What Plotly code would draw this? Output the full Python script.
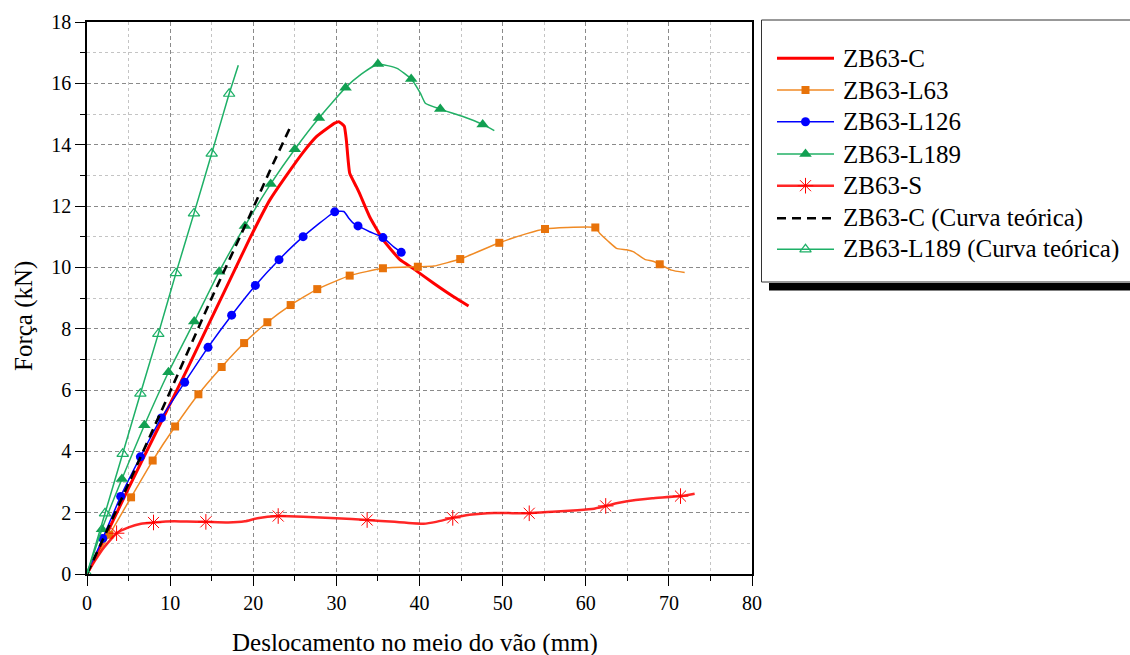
import plotly.graph_objects as go

# ---------------- data ----------------
# ZB63-C (experimental, no markers)
c_x = [0, 2, 5, 8, 10, 12, 15, 18, 19.6, 22, 24, 26, 27.6, 29, 29.8, 30.3, 30.95, 31.2, 31.6, 32.4,
       32.8, 34, 35.6, 37.65, 39.3, 41.7, 44.1, 45.9]
c_y = [0, 1.1, 2.8, 4.45, 5.55, 6.65, 8.35, 10.05, 10.95, 12.2, 13.0, 13.75, 14.26, 14.55, 14.7, 14.75,
       14.6, 14.15, 13.07, 12.63, 12.4, 11.65, 10.9, 10.25, 9.95, 9.48, 9.04, 8.74]

# ZB63-L63 (orange squares)
l63_mx = [2.69, 5.3, 7.9, 10.6, 13.4, 16.2, 18.9, 21.7, 24.5, 27.7, 31.6, 35.6, 39.8, 44.9, 49.6,
          55.1, 61.15, 68.9]
l63_my = [1.28, 2.5, 3.7, 4.81, 5.86, 6.75, 7.53, 8.21, 8.77, 9.29, 9.73, 9.97, 10.02, 10.27, 10.8,
          11.25, 11.3, 10.1]
l63_lx = [0, 41.7, 52.9, 57.7, 61.7, 62.7, 63.7, 64.9, 65.7, 67.1, 68.1, 70.3, 71.9]
l63_ly = [0, 10.04, 11.1, 11.3, 11.1, 10.85, 10.62, 10.57, 10.51, 10.26, 10.2, 9.91, 9.83]

# ZB63-L126 (blue circles)
l126_mx = [1.89, 4.05, 6.42, 8.95, 11.75, 14.56, 17.4, 20.25, 23.1, 26.0, 29.8, 32.6, 35.6, 37.8]
l126_my = [1.16, 2.53, 3.82, 5.09, 6.25, 7.39, 8.44, 9.41, 10.25, 11.0, 11.81, 11.35, 10.97, 10.49]
l126_lx = [0, 30.9, 31.5, 32.0, 34.0, 36.9]
l126_ly = [0, 11.82, 11.6, 11.45, 11.16, 10.67]

# ZB63-L189 (green filled triangles)
l189_mx = [1.8, 4.2, 6.9, 9.8, 12.9, 15.9, 19.0, 22.1, 25.0, 27.9, 31.1, 35.0, 39.0, 42.5, 47.6]
l189_my = [1.46, 3.1, 4.85, 6.58, 8.23, 9.86, 11.35, 12.72, 13.85, 14.87, 15.86, 16.63, 16.14,
           15.16, 14.66]
l189_lx = [0, 33.0, 37.3, 40.1, 40.7, 45.3, 49.0]
l189_ly = [0, 16.3, 16.49, 15.68, 15.35, 14.91, 14.46]

# ZB63-S (red asterisks)
s_mx = [3.56, 8.0, 14.3, 23.0, 33.7, 44.0, 53.2, 62.4, 71.4]
s_my = [1.33, 1.68, 1.70, 1.89, 1.76, 1.83, 1.98, 2.22, 2.54]
s_lx = [0, 1, 2, 5, 6.5, 10.5, 12, 17, 19, 20.5, 26, 30, 37, 40.5, 42, 46, 49, 56, 59, 61, 64, 66,
        68, 73.1]
s_ly = [0, 0.45, 0.85, 1.52, 1.64, 1.72, 1.71, 1.68, 1.72, 1.82, 1.87, 1.82, 1.70, 1.64, 1.70, 1.93,
        1.99, 2.03, 2.08, 2.13, 2.32, 2.41, 2.47, 2.62]

# ZB63-C theoretical curve (black dashed)
ct_x = [0, 5, 10, 15, 19.6, 22, 24.5]
ct_y = [0, 2.95, 5.95, 9.0, 11.7, 13.15, 14.6]

# ZB63-L189 theoretical curve (green open triangles)
l189t_mx = [0, 2.17, 4.29, 6.42, 8.58, 10.7, 12.87, 15.0, 17.1]
l189t_my = [0, 1.98, 3.92, 5.88, 7.83, 9.81, 11.76, 13.71, 15.66]
l189t_lx = [18.2]
l189t_ly = [16.59]

series_names = ["ZB63-C", "ZB63-L63", "ZB63-L126", "ZB63-L189", "ZB63-S",
                "ZB63-C (Curva teórica)", "ZB63-L189 (Curva teórica)"]

x_title = "Deslocamento no meio do vão (mm)"
y_title = "Força (kN)"

# ---------------- styling ----------------
FONT = "Liberation Serif, Times New Roman, Times, DejaVu Serif, serif"
RED = "#FF0000"
ORANGE_L = "#F08A24"
ORANGE_M = "#E8730A"
BLUE = "#0000FF"
GREEN_L = "#22B066"
GREEN_M = "#12A052"
GREEN_T = "#1DB067"

W, H = 1130, 655
PL, PR, PT, PB = 87, 752, 22, 574  # plot-area box (pixels)


def fx(px):
    return px / W


def fy(py):
    return (H - py) / H


def merged(mx, my, lx, ly):
    pts = sorted(list(zip(mx, my)) + list(zip(lx, ly)), key=lambda p: p[0])
    return [p[0] for p in pts], [p[1] for p in pts]


styles = [
    dict(line=dict(color=RED, width=3), marker=None),
    dict(line=dict(color=ORANGE_L, width=1.5),
         marker=dict(symbol="square", size=8, color=ORANGE_M)),
    dict(line=dict(color=BLUE, width=1.5),
         marker=dict(symbol="circle", size=9, color=BLUE)),
    dict(line=dict(color=GREEN_L, width=1.5),
         marker=dict(symbol="triangle-up", size=11, color=GREEN_M)),
    dict(line=dict(color="rgba(255,0,0,0.85)", width=2.5),
         marker=dict(symbol="asterisk-open", size=13, color=RED, line=dict(color=RED, width=1))),
    dict(line=dict(color="black", width=2.6, dash="9px,6px"), marker=None),
    dict(line=dict(color=GREEN_T, width=1.5),
         marker=dict(symbol="triangle-up-open", size=10, color=GREEN_T, line=dict(color=GREEN_T, width=1.2))),
]

lines = [
    (c_x, c_y, None, None),
    (*merged(l63_mx, l63_my, l63_lx, l63_ly), l63_mx, l63_my),
    (*merged(l126_mx, l126_my, l126_lx, l126_ly), l126_mx, l126_my),
    (*merged(l189_mx, l189_my, l189_lx, l189_ly), l189_mx, l189_my),
    (*merged(s_mx, s_my, s_lx, s_ly), s_mx, s_my),
    (ct_x, ct_y, None, None),
    (*merged(l189t_mx, l189t_my, l189t_lx, l189t_ly), l189t_mx, l189t_my),
]

fig = go.Figure()
for name, (lx, ly, mx, my), st in zip(series_names, lines, styles):
    fig.add_trace(go.Scatter(x=lx, y=ly, mode="lines", line=dict(**st["line"], shape="spline", smoothing=0.4),
                             name=name, showlegend=False, hoverinfo="skip"))
    if mx is not None:
        fig.add_trace(go.Scatter(x=mx, y=my, mode="markers", marker=st["marker"],
                                 name=name, showlegend=False))

# ---------------- manual legend in a pixel-based overlay subplot ----------------
LX0, LX1, LY0, LY1 = 761, 1130, 18, 292
row_y = [58.3, 90, 121.7, 154, 185.7, 218.3, 249.3]
for name, st, ry in zip(series_names, styles, row_y):
    fig.add_trace(go.Scatter(x=[777, 834], y=[ry, ry], mode="lines", line=st["line"],
                             xaxis="x2", yaxis="y2", showlegend=False, hoverinfo="skip"))
    if st["marker"] is not None:
        fig.add_trace(go.Scatter(x=[805.5], y=[ry], mode="markers", marker=st["marker"],
                                 xaxis="x2", yaxis="y2", showlegend=False, hoverinfo="skip"))
    fig.add_annotation(x=841, y=ry, xref="x2", yref="y2", text=name, showarrow=False,
                       xanchor="left", yanchor="middle",
                       font=dict(family=FONT, size=25, color="black"))

fig.add_shape(type="rect", xref="x2", yref="y2", x0=769, x1=1140, y0=283, y1=290.5,
              fillcolor="black", line=dict(width=0), layer="below")
fig.add_shape(type="rect", xref="x2", yref="y2", x0=761.5, x1=1140, y0=20, y1=282,
              fillcolor="white", line=dict(color="#333333", width=1), layer="below")

# ---------------- axes ----------------
grid_major = "#8a8a8a"
grid_minor = "#c4c4c4"
fig.update_layout(
    template="none",
    width=W, height=H,
    margin=dict(l=0, r=0, t=0, b=0, pad=0, autoexpand=False),
    paper_bgcolor="white", plot_bgcolor="white",
    showlegend=False,
    font=dict(family=FONT, size=20, color="black"),
    xaxis=dict(
        domain=[fx(PL), fx(PR)], range=[0, 80], dtick=10, tick0=0, automargin=False,
        showline=True, linecolor="black", linewidth=1.5, mirror=True,
        ticks="outside", ticklen=10, tickwidth=1.2, tickcolor="black",
        showgrid=True, gridcolor=grid_major, gridwidth=1, griddash="4px,3px",
        zeroline=False,
        tickfont=dict(family=FONT, size=20, color="black"),
        minor=dict(dtick=5, ticks="outside", ticklen=5, tickwidth=1.2, tickcolor="black",
                   showgrid=True, gridcolor=grid_minor, gridwidth=1, griddash="3px,3px"),
        anchor="y",
    ),
    yaxis=dict(
        domain=[fy(PB), fy(PT)], range=[0, 18], dtick=2, tick0=0, automargin=False,
        showline=True, linecolor="black", linewidth=1.5, mirror=True,
        ticks="outside", ticklen=10, tickwidth=1.2, tickcolor="black",
        showgrid=True, gridcolor=grid_major, gridwidth=1, griddash="4px,3px",
        zeroline=False,
        tickfont=dict(family=FONT, size=20, color="black"),
        minor=dict(dtick=1, ticks="outside", ticklen=5, tickwidth=1.2, tickcolor="black",
                   showgrid=True, gridcolor=grid_minor, gridwidth=1, griddash="3px,3px"),
        anchor="x",
    ),
    xaxis2=dict(domain=[fx(LX0), fx(LX1)], range=[LX0, LX1], visible=False, fixedrange=True,
                anchor="y2", automargin=False),
    yaxis2=dict(domain=[fy(LY1), fy(LY0)], range=[LY1, LY0], visible=False, fixedrange=True,
                anchor="x2", automargin=False),
)

fig.add_annotation(x=fx(415), y=fy(643), xref="paper", yref="paper", text=x_title,
                   showarrow=False, xanchor="center", yanchor="middle",
                   font=dict(family=FONT, size=25, color="black"))
fig.add_annotation(x=fx(24), y=fy(316), xref="paper", yref="paper", text=y_title,
                   showarrow=False, xanchor="center", yanchor="middle", textangle=-90,
                   font=dict(family=FONT, size=25, color="black"))

# remove the default page margin so the 1130x655 figure fills the window exactly
fig.write_html("out.html",
               config={"displayModeBar": False},
               post_script="document.body.style.margin='0';document.body.style.overflow='hidden';")
